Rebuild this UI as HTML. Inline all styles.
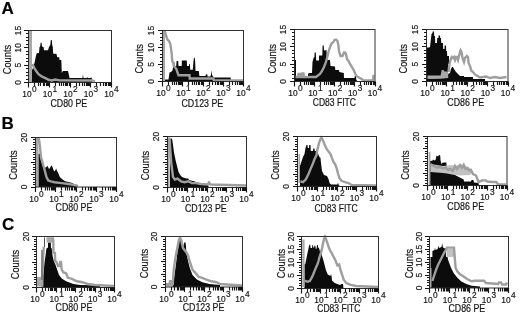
<!DOCTYPE html>
<html><head><meta charset="utf-8"><style>
html,body{margin:0;padding:0;background:#fff;width:520px;height:314px;overflow:hidden}
svg{display:block;filter:blur(0.35px)}
text{font-family:"Liberation Sans",sans-serif;fill:#151515;stroke:#151515;stroke-width:0.2px}
.t{font-size:9.5px}
.s{font-size:8px}
.l{font-size:10.2px}
.P{font-size:17px;font-weight:bold;fill:#000}
</style></head><body>
<svg width="520" height="314" viewBox="0 0 520 314">
<text x="1.6" y="13.8" class="P">A</text>
<text x="1.6" y="129" class="P">B</text>
<text x="2" y="229.5" class="P">C</text>
<g id="A1">
<polygon points="31.5,82 31.5,71 33,68 34.5,63 35.6,57.6 36.7,53.3 39,53 39.5,47 40.2,46.6 40.6,42.8 41.6,42.8 42,46.6 43.5,47 44,50.3 48,50.3 49,47 50.3,45 50.8,40 51.8,40 52.2,45 52.8,47 53.2,53.8 55.5,53.8 56.5,54 57.2,57.2 59.3,57.2 59.5,60 61.3,60 61.8,73 62.9,71 68,71 68.7,74 69.5,78.1 79.7,78.1 82.5,78 82.9,74.3 83.5,78 86.8,78 87.2,77 87.8,78 90.6,78 91,77 91.6,78 92.6,81 92.6,82" fill="#0c0c0c"/>
<polygon points="29,31 32,31 32,82 29,82" fill="#a8a8a8"/>
<polyline points="32.5,64.1 34.5,68.4 36.7,71.7 38.8,74.4 42.1,76.6 45.4,78.2 48.6,79.8 51.9,80.4 55.1,79.5 59.5,80.4 92,80.5 95,81.5" fill="none" stroke="#9e9e9e" stroke-width="2.4" stroke-linejoin="miter"/>
<rect x="28.5" y="30.5" width="83" height="52" fill="none" stroke="#303030" stroke-width="1"/>
<path d="M24 82.5H28.5 M26 79.5H28.5 M26 75.5H28.5 M26 72.5H28.5 M26 68.5H28.5 M24 65.5H28.5 M26 61.5H28.5 M26 58.5H28.5 M26 54.5H28.5 M26 51.5H28.5 M24 47.5H28.5 M26 44.5H28.5 M26 40.5H28.5 M26 37.5H28.5 M26 33.5H28.5 M24 30.5H28.5 M28.5 82.5V87.5 M34.5 82.5V86 M38.5 82.5V86 M40.5 82.5V86 M43.5 82.5V86 M44.5 82.5V86 M46.5 82.5V86 M47.5 82.5V86 M48.5 82.5V86 M49.5 82.5V87.5 M55.5 82.5V86 M59.5 82.5V86 M61.5 82.5V86 M63.5 82.5V86 M65.5 82.5V86 M66.5 82.5V86 M67.5 82.5V86 M69.5 82.5V86 M70.5 82.5V87.5 M76.5 82.5V86 M79.5 82.5V86 M82.5 82.5V86 M84.5 82.5V86 M86.5 82.5V86 M87.5 82.5V86 M88.5 82.5V86 M89.5 82.5V86 M90.5 82.5V87.5 M96.5 82.5V86 M100.5 82.5V86 M103.5 82.5V86 M105.5 82.5V86 M106.5 82.5V86 M108.5 82.5V86 M109.5 82.5V86 M110.5 82.5V86 M111.5 82.5V87.5" stroke="#151515" stroke-width="1.15" fill="none"/>
<text transform="translate(20.9,82.5) rotate(-90) scale(0.88,1)" text-anchor="middle" class="t">0</text>
<text transform="translate(20.9,65.17) rotate(-90) scale(0.88,1)" text-anchor="middle" class="t">5</text>
<text transform="translate(20.9,47.83) rotate(-90) scale(0.88,1)" text-anchor="middle" class="t">10</text>
<text transform="translate(20.9,30.5) rotate(-90) scale(0.88,1)" text-anchor="middle" class="t">15</text>
<text transform="translate(10.5,59.55) rotate(-90) scale(0.91,1)" text-anchor="middle" class="l">Counts</text>
<text transform="translate(29.5,97.1) scale(0.88,1)" text-anchor="middle" class="t">10<tspan dx="0.6" dy="-4.8">0</tspan></text>
<text transform="translate(50,97.1) scale(0.88,1)" text-anchor="middle" class="t">10<tspan dx="0.6" dy="-4.8">1</tspan></text>
<text transform="translate(70.5,97.1) scale(0.88,1)" text-anchor="middle" class="t">10<tspan dx="0.6" dy="-4.8">2</tspan></text>
<text transform="translate(91,97.1) scale(0.88,1)" text-anchor="middle" class="t">10<tspan dx="0.6" dy="-4.8">3</tspan></text>
<text transform="translate(111.5,97.1) scale(0.88,1)" text-anchor="middle" class="t">10<tspan dx="0.6" dy="-4.8">4</tspan></text>
<text transform="translate(50.4,106.6) scale(0.866,1)" class="l">CD80 PE</text>
</g>
<g id="A2">
<polygon points="164.5,82 164.5,79.5 168.5,79.5 169.5,72.5 171,72 172.5,70.5 173.3,66 173.8,62.3 174.4,62.3 174.6,66 176.2,66 176.6,61 178.2,61 178.5,66 181.7,66 181.9,60.5 186.8,60.5 187,66 189,66 189.3,64 190,64 190.2,69.7 192.8,69.7 193.4,62 193.9,57.7 194.7,57.7 195.2,62 195.5,71 198.8,71 199.4,76 205.5,76 206,74.2 207.2,74.2 207.6,76.5 210.5,76.5 211,74.2 211.4,70.3 211.9,74.2 212.5,76 214,77.6 230.6,77.6 231,80.5 231,82" fill="#0c0c0c"/>
<polygon points="163,31 165,31 165,82 163,82" fill="#a8a8a8"/>
<polyline points="164.5,31 165.5,33.4 166.5,37 167.5,39.6 169,41 170.2,43.6 171,48.5 171.8,54.8 172.3,61.4 173.4,63 173.8,66 176.2,68.8 178.5,75.2 189.5,75.2 189.7,78.5 213.3,78.5 214,80.5 243,80.5" fill="none" stroke="#9e9e9e" stroke-width="2.4" stroke-linejoin="miter"/>
<rect x="162.5" y="30.5" width="81" height="51" fill="none" stroke="#303030" stroke-width="1"/>
<path d="M158 81.5H162.5 M160 78.5H162.5 M160 74.5H162.5 M160 71.5H162.5 M160 67.5H162.5 M158 64.5H162.5 M160 61.5H162.5 M160 57.5H162.5 M160 54.5H162.5 M160 50.5H162.5 M158 47.5H162.5 M160 44.5H162.5 M160 40.5H162.5 M160 37.5H162.5 M160 33.5H162.5 M158 30.5H162.5 M162.5 81.5V86.5 M168.5 81.5V85 M172.5 81.5V85 M174.5 81.5V85 M176.5 81.5V85 M178.5 81.5V85 M179.5 81.5V85 M180.5 81.5V85 M181.5 81.5V85 M182.5 81.5V86.5 M188.5 81.5V85 M192.5 81.5V85 M194.5 81.5V85 M196.5 81.5V85 M198.5 81.5V85 M199.5 81.5V85 M201.5 81.5V85 M202.5 81.5V85 M203.5 81.5V86.5 M209.5 81.5V85 M212.5 81.5V85 M215.5 81.5V85 M217.5 81.5V85 M218.5 81.5V85 M220.5 81.5V85 M221.5 81.5V85 M222.5 81.5V85 M223.5 81.5V86.5 M229.5 81.5V85 M232.5 81.5V85 M235.5 81.5V85 M237.5 81.5V85 M239.5 81.5V85 M240.5 81.5V85 M241.5 81.5V85 M242.5 81.5V85 M243.5 81.5V86.5" stroke="#151515" stroke-width="1.15" fill="none"/>
<text transform="translate(154,81.5) rotate(-90) scale(0.88,1)" text-anchor="middle" class="t">0</text>
<text transform="translate(154,64.5) rotate(-90) scale(0.88,1)" text-anchor="middle" class="t">5</text>
<text transform="translate(154,47.5) rotate(-90) scale(0.88,1)" text-anchor="middle" class="t">10</text>
<text transform="translate(154,30.5) rotate(-90) scale(0.88,1)" text-anchor="middle" class="t">15</text>
<text transform="translate(143.3,58.8) rotate(-90) scale(0.91,1)" text-anchor="middle" class="l">Counts</text>
<text transform="translate(163.5,96.1) scale(0.88,1)" text-anchor="middle" class="t">10<tspan dx="0.6" dy="-4.8">0</tspan></text>
<text transform="translate(183.5,96.1) scale(0.88,1)" text-anchor="middle" class="t">10<tspan dx="0.6" dy="-4.8">1</tspan></text>
<text transform="translate(203.5,96.1) scale(0.88,1)" text-anchor="middle" class="t">10<tspan dx="0.6" dy="-4.8">2</tspan></text>
<text transform="translate(223.5,96.1) scale(0.88,1)" text-anchor="middle" class="t">10<tspan dx="0.6" dy="-4.8">3</tspan></text>
<text transform="translate(243.5,96.1) scale(0.88,1)" text-anchor="middle" class="t">10<tspan dx="0.6" dy="-4.8">4</tspan></text>
<text transform="translate(181.5,106.6) scale(0.866,1)" class="l">CD123 PE</text>
</g>
<g id="A3">
<polygon points="294.5,81.5 294.5,60 296,60 296,77 308,77 308,74 309,73 312,73 312.5,62 313.5,58 314.5,57 314.6,52.5 315.8,52.5 316,57 316.2,60.5 319,60.5 319,55.5 322.3,55.5 322.6,45.5 323.8,45.5 324,50.5 326.5,50 326.8,57 327.5,60 330,60 330.5,66 335,66.5 335.3,70 339,70 339.3,72 343.8,73 344,78 354.5,78 354.8,76 356,76 356.3,80 358,81.5" fill="#0c0c0c"/>
<polyline points="295.5,77 298,77 298.5,74 300,74 300.3,77 302,77 302.3,73.5 303.5,73.5 303.8,77 308,77 316,77 320,74 322,71 324,67 326,62 327.5,56 329,50 330.5,46 331.5,43.5 333,42.5 334.5,40 336,39.5 337.5,41 338.5,46 339,51 340.5,56 342.5,56 344,52.5 345,52.5 346,54 347,59 348.5,61 350,64 351,65.5 353.6,70 356.3,76 361.6,79 363.4,80.5 373,80.5 373.5,76 374.5,76" fill="none" stroke="#9e9e9e" stroke-width="2.4" stroke-linejoin="miter"/>
<rect x="294.5" y="29.5" width="80.5" height="52" fill="none" stroke="#303030" stroke-width="1"/>
<path d="M290 81.5H294.5 M292 78.5H294.5 M292 74.5H294.5 M292 71.5H294.5 M292 67.5H294.5 M290 64.5H294.5 M292 60.5H294.5 M292 57.5H294.5 M292 53.5H294.5 M292 50.5H294.5 M290 46.5H294.5 M292 43.5H294.5 M292 39.5H294.5 M292 36.5H294.5 M292 32.5H294.5 M290 29.5H294.5 M294.5 81.5V86.5 M300.5 81.5V85 M304.5 81.5V85 M306.5 81.5V85 M308.5 81.5V85 M310.5 81.5V85 M311.5 81.5V85 M312.5 81.5V85 M313.5 81.5V85 M314.5 81.5V86.5 M320.5 81.5V85 M324.5 81.5V85 M326.5 81.5V85 M328.5 81.5V85 M330.5 81.5V85 M331.5 81.5V85 M332.5 81.5V85 M333.5 81.5V85 M334.5 81.5V86.5 M340.5 81.5V85 M344.5 81.5V85 M346.5 81.5V85 M348.5 81.5V85 M350.5 81.5V85 M351.5 81.5V85 M352.5 81.5V85 M353.5 81.5V85 M354.5 81.5V86.5 M360.5 81.5V85 M364.5 81.5V85 M366.5 81.5V85 M368.5 81.5V85 M370.5 81.5V85 M371.5 81.5V85 M373.5 81.5V85 M374.5 81.5V85 M375.5 81.5V86.5" stroke="#151515" stroke-width="1.15" fill="none"/>
<text transform="translate(286.1,81.5) rotate(-90) scale(0.88,1)" text-anchor="middle" class="t">0</text>
<text transform="translate(286.1,64.17) rotate(-90) scale(0.88,1)" text-anchor="middle" class="t">5</text>
<text transform="translate(286.1,46.83) rotate(-90) scale(0.88,1)" text-anchor="middle" class="t">10</text>
<text transform="translate(286.1,29.5) rotate(-90) scale(0.88,1)" text-anchor="middle" class="t">15</text>
<text transform="translate(276.3,58.8) rotate(-90) scale(0.91,1)" text-anchor="middle" class="l">Counts</text>
<text transform="translate(295.5,96.1) scale(0.88,1)" text-anchor="middle" class="t">10<tspan dx="0.6" dy="-4.8">0</tspan></text>
<text transform="translate(315.38,96.1) scale(0.88,1)" text-anchor="middle" class="t">10<tspan dx="0.6" dy="-4.8">1</tspan></text>
<text transform="translate(335.25,96.1) scale(0.88,1)" text-anchor="middle" class="t">10<tspan dx="0.6" dy="-4.8">2</tspan></text>
<text transform="translate(355.12,96.1) scale(0.88,1)" text-anchor="middle" class="t">10<tspan dx="0.6" dy="-4.8">3</tspan></text>
<text transform="translate(375,96.1) scale(0.88,1)" text-anchor="middle" class="t">10<tspan dx="0.6" dy="-4.8">4</tspan></text>
<text transform="translate(312.7,105.8) scale(0.84002,1)" class="l">CD83 FITC</text>
</g>
<g id="A4">
<polygon points="427,81.5 427,47.6 429.2,47.6 430,47 430.8,40 431.5,34 432.5,33 432.8,31.5 434,31.5 434.2,36 435,36 435.2,43 437,43 437.2,38 438.5,38 438.6,35.5 440,35.5 440.2,38 441,38 441.2,43 443,43 443.2,49 444.5,49 444.7,45.5 446,45.5 446.2,51 447,51 447.2,56 449,56 449,64 448,64 448,74 450,73 451,69 452,67 453,67 454,69 456,72 458,74 460,76 464,76 464,77 473,77 473,79 485,79 485,81.5" fill="#0c0c0c"/>
<polygon points="427.5,75.5 440.6,75.5 441.7,70 443.6,70 444.5,71.5 447.5,71.5 448.2,73 448.2,78 441,78.8 427.5,79" fill="#a8a8a8"/>
<polyline points="448.5,72 449.5,64 450.5,60 451.7,57 453,58 454,57 455,60 456,57 457,57 458,60 459,56 460,52 460.6,50.3 461.5,52 462.5,58 464,62 465,58 466.8,56 468,57 468.6,63 470,66 471.3,70.5 473,72 475,74.4 477.6,76 480,77.5 486,76.5 490,78 495,77 500,78 506.5,77" fill="none" stroke="#9e9e9e" stroke-width="2.4" stroke-linejoin="miter"/>
<rect x="426.5" y="29.5" width="81.5" height="52" fill="none" stroke="#303030" stroke-width="1"/>
<path d="M422 81.5H426.5 M424 78.5H426.5 M424 74.5H426.5 M424 71.5H426.5 M424 67.5H426.5 M422 64.5H426.5 M424 60.5H426.5 M424 57.5H426.5 M424 53.5H426.5 M424 50.5H426.5 M422 46.5H426.5 M424 43.5H426.5 M424 39.5H426.5 M424 36.5H426.5 M424 32.5H426.5 M422 29.5H426.5 M426.5 81.5V86.5 M432.5 81.5V85 M436.5 81.5V85 M438.5 81.5V85 M440.5 81.5V85 M442.5 81.5V85 M443.5 81.5V85 M444.5 81.5V85 M445.5 81.5V85 M446.5 81.5V86.5 M453.5 81.5V85 M456.5 81.5V85 M459.5 81.5V85 M461.5 81.5V85 M462.5 81.5V85 M464.5 81.5V85 M465.5 81.5V85 M466.5 81.5V85 M467.5 81.5V86.5 M473.5 81.5V85 M476.5 81.5V85 M479.5 81.5V85 M481.5 81.5V85 M483.5 81.5V85 M484.5 81.5V85 M485.5 81.5V85 M486.5 81.5V85 M487.5 81.5V86.5 M493.5 81.5V85 M497.5 81.5V85 M499.5 81.5V85 M501.5 81.5V85 M503.5 81.5V85 M504.5 81.5V85 M506.5 81.5V85 M507.5 81.5V85 M508.5 81.5V86.5" stroke="#151515" stroke-width="1.15" fill="none"/>
<text transform="translate(418.25,81.5) rotate(-90) scale(0.88,1)" text-anchor="middle" class="t">0</text>
<text transform="translate(418.25,64.17) rotate(-90) scale(0.88,1)" text-anchor="middle" class="t">5</text>
<text transform="translate(418.25,46.83) rotate(-90) scale(0.88,1)" text-anchor="middle" class="t">10</text>
<text transform="translate(418.25,29.5) rotate(-90) scale(0.88,1)" text-anchor="middle" class="t">15</text>
<text transform="translate(407.3,58.8) rotate(-90) scale(0.91,1)" text-anchor="middle" class="l">Counts</text>
<text transform="translate(427.5,96.1) scale(0.88,1)" text-anchor="middle" class="t">10<tspan dx="0.6" dy="-4.8">0</tspan></text>
<text transform="translate(447.62,96.1) scale(0.88,1)" text-anchor="middle" class="t">10<tspan dx="0.6" dy="-4.8">1</tspan></text>
<text transform="translate(467.75,96.1) scale(0.88,1)" text-anchor="middle" class="t">10<tspan dx="0.6" dy="-4.8">2</tspan></text>
<text transform="translate(487.88,96.1) scale(0.88,1)" text-anchor="middle" class="t">10<tspan dx="0.6" dy="-4.8">3</tspan></text>
<text transform="translate(508,96.1) scale(0.88,1)" text-anchor="middle" class="t">10<tspan dx="0.6" dy="-4.8">4</tspan></text>
<text transform="translate(447.3,105.5) scale(0.866,1)" class="l">CD86 PE</text>
</g>
<g id="B1">
<polygon points="38.4,187 38.4,153.6 40,154 41,160.8 42.8,166 44.6,168 46.5,167 47.3,165.5 48,167 49,169 50,168 51,166 51.75,165.5 52.5,167 53.5,170 54.4,171.5 55.5,170 56.2,168.5 57,171 58,172.4 59.8,176.9 62.5,179.5 65.1,181.3 68.7,181.9 72.3,183.1 75,185 76,187" fill="#0c0c0c"/>
<polygon points="36,137.6 38.4,137.6 38.4,187 36,187" fill="#a8a8a8"/>
<polyline points="38.5,137.6 39.25,141 40.1,148.3 41,157.2 42.8,163.5 44.6,169.7 46.4,176.9 48.2,180.4 50.9,181.3 54.4,182.2 61.6,183.1 68.7,184 74,184.9 78,186" fill="none" stroke="#9e9e9e" stroke-width="2.4" stroke-linejoin="miter"/>
<rect x="35.5" y="137.5" width="81" height="49.5" fill="none" stroke="#303030" stroke-width="1"/>
<path d="M31 187.5H35.5 M33 184.5H35.5 M33 182.5H35.5 M33 179.5H35.5 M33 177.5H35.5 M31 174.5H35.5 M33 172.5H35.5 M33 169.5H35.5 M33 167.5H35.5 M33 164.5H35.5 M31 162.5H35.5 M33 159.5H35.5 M33 157.5H35.5 M33 154.5H35.5 M33 152.5H35.5 M31 149.5H35.5 M33 147.5H35.5 M33 144.5H35.5 M33 142.5H35.5 M33 139.5H35.5 M31 137.5H35.5 M35.5 187V192 M41.5 187V190.5 M45.5 187V190.5 M47.5 187V190.5 M49.5 187V190.5 M51.5 187V190.5 M52.5 187V190.5 M53.5 187V190.5 M54.5 187V190.5 M55.5 187V192 M61.5 187V190.5 M65.5 187V190.5 M67.5 187V190.5 M69.5 187V190.5 M71.5 187V190.5 M72.5 187V190.5 M74.5 187V190.5 M75.5 187V190.5 M76.5 187V192 M82.5 187V190.5 M85.5 187V190.5 M88.5 187V190.5 M90.5 187V190.5 M91.5 187V190.5 M93.5 187V190.5 M94.5 187V190.5 M95.5 187V190.5 M96.5 187V192 M102.5 187V190.5 M105.5 187V190.5 M108.5 187V190.5 M110.5 187V190.5 M112.5 187V190.5 M113.5 187V190.5 M114.5 187V190.5 M115.5 187V190.5 M116.5 187V192" stroke="#151515" stroke-width="1.15" fill="none"/>
<text transform="translate(27,187) rotate(-90) scale(0.88,1)" text-anchor="middle" class="t">0</text>
<text transform="translate(27,137.5) rotate(-90) scale(0.88,1)" text-anchor="middle" class="t">20</text>
<text transform="translate(17.4,165.1) rotate(-90) scale(0.91,1)" text-anchor="middle" class="l">Counts</text>
<text transform="translate(36.5,201.6) scale(0.88,1)" text-anchor="middle" class="t">10<tspan dx="0.6" dy="-4.8">0</tspan></text>
<text transform="translate(56.5,201.6) scale(0.88,1)" text-anchor="middle" class="t">10<tspan dx="0.6" dy="-4.8">1</tspan></text>
<text transform="translate(76.5,201.6) scale(0.88,1)" text-anchor="middle" class="t">10<tspan dx="0.6" dy="-4.8">2</tspan></text>
<text transform="translate(96.5,201.6) scale(0.88,1)" text-anchor="middle" class="t">10<tspan dx="0.6" dy="-4.8">3</tspan></text>
<text transform="translate(116.5,201.6) scale(0.88,1)" text-anchor="middle" class="t">10<tspan dx="0.6" dy="-4.8">4</tspan></text>
<text transform="translate(55.6,211) scale(0.866,1)" class="l">CD80 PE</text>
</g>
<g id="B2">
<polygon points="170,187.5 170,139 172,138.5 173,144.7 173.9,151.9 175.7,160.8 177.5,168 178.4,171.5 180.2,175 182,176.9 183.8,177.8 186.4,178.6 188.2,178.6 189,180 195,181.5 196.2,182.2 198,182.2 199,184 207.9,184 208.5,186 208.5,187.5" fill="#0c0c0c"/>
<polygon points="167.8,137.6 169.6,137.6 169.6,187.5 167.8,187.5" fill="#a8a8a8"/>
<polyline points="169.5,137.6 170.4,151.9 171.25,162.6 172.1,169.7 173,176.9 174.8,179.5 177.5,178.6 181,181.3 184.6,182.2 188.2,181.3 191.8,183.1 196,183.1 200.7,184 207.9,184.4 209,182.5 210.5,184.5 246,185.5" fill="none" stroke="#9e9e9e" stroke-width="2.4" stroke-linejoin="miter"/>
<rect x="167.5" y="136.5" width="79" height="51" fill="none" stroke="#303030" stroke-width="1"/>
<path d="M163 187.5H167.5 M165 184.5H167.5 M165 182.5H167.5 M165 179.5H167.5 M165 177.5H167.5 M163 174.5H167.5 M165 172.5H167.5 M165 169.5H167.5 M165 167.5H167.5 M165 164.5H167.5 M163 162.5H167.5 M165 159.5H167.5 M165 156.5H167.5 M165 154.5H167.5 M165 151.5H167.5 M163 149.5H167.5 M165 146.5H167.5 M165 144.5H167.5 M165 141.5H167.5 M165 139.5H167.5 M163 136.5H167.5 M167.5 187.5V192.5 M173.5 187.5V191 M176.5 187.5V191 M179.5 187.5V191 M181.5 187.5V191 M182.5 187.5V191 M184.5 187.5V191 M185.5 187.5V191 M186.5 187.5V191 M187.5 187.5V192.5 M193.5 187.5V191 M196.5 187.5V191 M199.5 187.5V191 M201.5 187.5V191 M202.5 187.5V191 M203.5 187.5V191 M205.5 187.5V191 M206.5 187.5V191 M207.5 187.5V192.5 M212.5 187.5V191 M216.5 187.5V191 M218.5 187.5V191 M220.5 187.5V191 M222.5 187.5V191 M223.5 187.5V191 M224.5 187.5V191 M225.5 187.5V191 M226.5 187.5V192.5 M232.5 187.5V191 M236.5 187.5V191 M238.5 187.5V191 M240.5 187.5V191 M242.5 187.5V191 M243.5 187.5V191 M244.5 187.5V191 M245.5 187.5V191 M246.5 187.5V192.5" stroke="#151515" stroke-width="1.15" fill="none"/>
<text transform="translate(158.75,187.5) rotate(-90) scale(0.88,1)" text-anchor="middle" class="t">0</text>
<text transform="translate(158.75,136.5) rotate(-90) scale(0.88,1)" text-anchor="middle" class="t">20</text>
<text transform="translate(149.4,165.6) rotate(-90) scale(0.91,1)" text-anchor="middle" class="l">Counts</text>
<text transform="translate(168.5,202.1) scale(0.88,1)" text-anchor="middle" class="t">10<tspan dx="0.6" dy="-4.8">0</tspan></text>
<text transform="translate(188,202.1) scale(0.88,1)" text-anchor="middle" class="t">10<tspan dx="0.6" dy="-4.8">1</tspan></text>
<text transform="translate(207.5,202.1) scale(0.88,1)" text-anchor="middle" class="t">10<tspan dx="0.6" dy="-4.8">2</tspan></text>
<text transform="translate(227,202.1) scale(0.88,1)" text-anchor="middle" class="t">10<tspan dx="0.6" dy="-4.8">3</tspan></text>
<text transform="translate(246.5,202.1) scale(0.88,1)" text-anchor="middle" class="t">10<tspan dx="0.6" dy="-4.8">4</tspan></text>
<text transform="translate(185,212) scale(0.866,1)" class="l">CD123 PE</text>
</g>
<g id="B3">
<polygon points="300,186.5 300,166 301,163 302,160 303,157 304.5,154 305.5,148 306.5,145 307.5,145 307.8,148 309,148 309.2,145 310.5,145 310.8,151 313,151 313.2,148.5 314.5,148.5 314.8,151 316,151 316.2,155 317,155 317.3,153 318,153 318.5,155 319.5,157 320.5,158 321,163 322,171 324,175 327,176 328.5,179 329.5,183 331,184.5 337.5,184.5 338,182.5 338.5,184.5 340,186.5" fill="#0c0c0c"/>
<polygon points="298.5,154 300,154 300,183 298.5,183" fill="#a8a8a8"/>
<polyline points="300.4,181.3 303,182.2 305.7,179.5 308.4,174.2 311,167.9 312.9,163.5 314.6,159 316.4,155.4 317.3,150 319.1,142.9 320.3,139.5 321.4,137.6 322.5,139.5 323.6,142 325,145.6 326.8,149.2 328.9,151.9 330.7,154.5 332,158.1 333.4,161.7 335.2,164.4 336.6,168 337.9,173.3 339.3,177.8 341.4,180.8 345,182.2 348.6,183.1 351.3,184.9 376,185.5" fill="none" stroke="#9e9e9e" stroke-width="2.4" stroke-linejoin="miter"/>
<rect x="297.5" y="136.5" width="79" height="50" fill="none" stroke="#303030" stroke-width="1"/>
<path d="M293 186.5H297.5 M295 184.5H297.5 M295 181.5H297.5 M295 179.5H297.5 M295 176.5H297.5 M293 174.5H297.5 M295 171.5H297.5 M295 169.5H297.5 M295 166.5H297.5 M295 164.5H297.5 M293 161.5H297.5 M295 159.5H297.5 M295 156.5H297.5 M295 154.5H297.5 M295 151.5H297.5 M293 149.5H297.5 M295 146.5H297.5 M295 144.5H297.5 M295 141.5H297.5 M295 139.5H297.5 M293 136.5H297.5 M297.5 186.5V191.5 M303.5 186.5V190 M306.5 186.5V190 M309.5 186.5V190 M311.5 186.5V190 M312.5 186.5V190 M314.5 186.5V190 M315.5 186.5V190 M316.5 186.5V190 M317.5 186.5V191.5 M323.5 186.5V190 M326.5 186.5V190 M329.5 186.5V190 M331.5 186.5V190 M332.5 186.5V190 M333.5 186.5V190 M335.5 186.5V190 M336.5 186.5V190 M337.5 186.5V191.5 M342.5 186.5V190 M346.5 186.5V190 M348.5 186.5V190 M350.5 186.5V190 M352.5 186.5V190 M353.5 186.5V190 M354.5 186.5V190 M355.5 186.5V190 M356.5 186.5V191.5 M362.5 186.5V190 M366.5 186.5V190 M368.5 186.5V190 M370.5 186.5V190 M372.5 186.5V190 M373.5 186.5V190 M374.5 186.5V190 M375.5 186.5V190 M376.5 186.5V191.5" stroke="#151515" stroke-width="1.15" fill="none"/>
<text transform="translate(289.05,186.5) rotate(-90) scale(0.88,1)" text-anchor="middle" class="t">0</text>
<text transform="translate(289.05,136.5) rotate(-90) scale(0.88,1)" text-anchor="middle" class="t">20</text>
<text transform="translate(279.4,165.1) rotate(-90) scale(0.91,1)" text-anchor="middle" class="l">Counts</text>
<text transform="translate(298.5,201.1) scale(0.88,1)" text-anchor="middle" class="t">10<tspan dx="0.6" dy="-4.8">0</tspan></text>
<text transform="translate(318,201.1) scale(0.88,1)" text-anchor="middle" class="t">10<tspan dx="0.6" dy="-4.8">1</tspan></text>
<text transform="translate(337.5,201.1) scale(0.88,1)" text-anchor="middle" class="t">10<tspan dx="0.6" dy="-4.8">2</tspan></text>
<text transform="translate(357,201.1) scale(0.88,1)" text-anchor="middle" class="t">10<tspan dx="0.6" dy="-4.8">3</tspan></text>
<text transform="translate(376.5,201.1) scale(0.88,1)" text-anchor="middle" class="t">10<tspan dx="0.6" dy="-4.8">4</tspan></text>
<text transform="translate(314.4,211.5) scale(0.84002,1)" class="l">CD83 FITC</text>
</g>
<g id="B4">
<polygon points="430,185.5 430,161 432.4,160.8 433,159.5 434.5,160.5 435.5,160 436.6,155.4 438,156.5 439,155 440.2,155.4 440.5,160 441.5,164.5 442,163 443.8,162.6 446.4,162.6 446.6,166 447,170 450,172.4 455,175 460.7,178 463.7,179.5 464,181.4 471,181.4 471.5,180 473.4,180 474,182.5 478.6,183 479,185.5" fill="#0c0c0c"/>
<polygon points="430.4,164 443,166 447,165.5 451,165 455,165.7 460,164.5 463.7,164.5 466,166 470,168 472.5,172 470,175 460,175.5 452,174.5 447,173.5 443,173 430.4,172" fill="#c2c2c2"/>
<polygon points="428.6,152 430.4,152 430.4,185 428.6,185" fill="#a8a8a8"/>
<polyline points="430.4,164 432,165 434.7,166.5 437,167.5 440,167 443,168.5 445.6,167.5 448,170 450,169 452.8,171 455,166 457,169 460,165 462,168 463.7,165 465.5,169 467.3,168 469,170.5 471,170 473,174 476,175.5 478.6,182 482,180.4 485.7,180.4 487.5,181.5 492,182 496.4,182 498,184.5 506,184.5" fill="none" stroke="#9e9e9e" stroke-width="2.4" stroke-linejoin="miter"/>
<rect x="427.5" y="136.5" width="79.5" height="49" fill="none" stroke="#303030" stroke-width="1"/>
<path d="M423 185.5H427.5 M425 183.5H427.5 M425 180.5H427.5 M425 178.5H427.5 M425 175.5H427.5 M423 173.5H427.5 M425 170.5H427.5 M425 168.5H427.5 M425 165.5H427.5 M425 163.5H427.5 M423 161.5H427.5 M425 158.5H427.5 M425 156.5H427.5 M425 153.5H427.5 M425 151.5H427.5 M423 148.5H427.5 M425 146.5H427.5 M425 143.5H427.5 M425 141.5H427.5 M425 138.5H427.5 M423 136.5H427.5 M427.5 185.5V190.5 M433.5 185.5V189 M436.5 185.5V189 M439.5 185.5V189 M441.5 185.5V189 M442.5 185.5V189 M444.5 185.5V189 M445.5 185.5V189 M446.5 185.5V189 M447.5 185.5V190.5 M453.5 185.5V189 M456.5 185.5V189 M459.5 185.5V189 M461.5 185.5V189 M462.5 185.5V189 M464.5 185.5V189 M465.5 185.5V189 M466.5 185.5V189 M467.5 185.5V190.5 M473.5 185.5V189 M476.5 185.5V189 M479.5 185.5V189 M481.5 185.5V189 M482.5 185.5V189 M484.5 185.5V189 M485.5 185.5V189 M486.5 185.5V189 M487.5 185.5V190.5 M493.5 185.5V189 M496.5 185.5V189 M499.5 185.5V189 M501.5 185.5V189 M502.5 185.5V189 M503.5 185.5V189 M505.5 185.5V189 M506.5 185.5V189 M507.5 185.5V190.5" stroke="#151515" stroke-width="1.15" fill="none"/>
<text transform="translate(419.05,185.5) rotate(-90) scale(0.88,1)" text-anchor="middle" class="t">0</text>
<text transform="translate(419.05,136.5) rotate(-90) scale(0.88,1)" text-anchor="middle" class="t">20</text>
<text transform="translate(409.4,165.1) rotate(-90) scale(0.91,1)" text-anchor="middle" class="l">Counts</text>
<text transform="translate(428.5,200.1) scale(0.88,1)" text-anchor="middle" class="t">10<tspan dx="0.6" dy="-4.8">0</tspan></text>
<text transform="translate(448.12,200.1) scale(0.88,1)" text-anchor="middle" class="t">10<tspan dx="0.6" dy="-4.8">1</tspan></text>
<text transform="translate(467.75,200.1) scale(0.88,1)" text-anchor="middle" class="t">10<tspan dx="0.6" dy="-4.8">2</tspan></text>
<text transform="translate(487.38,200.1) scale(0.88,1)" text-anchor="middle" class="t">10<tspan dx="0.6" dy="-4.8">3</tspan></text>
<text transform="translate(507,200.1) scale(0.88,1)" text-anchor="middle" class="t">10<tspan dx="0.6" dy="-4.8">4</tspan></text>
<text transform="translate(447.3,209.8) scale(0.866,1)" class="l">CD86 PE</text>
</g>
<g id="C1">
<polygon points="42.6,287.5 42.9,276.9 43.8,269.7 44.7,261 45.5,256 46.4,248.4 48,247.6 48,242.6 50.9,242.6 50.9,247.6 51.7,248.4 52.6,255.9 53.8,261 55.4,264.4 57.2,269.7 59,275 61.7,278.6 66.1,281.3 73.3,284 80.4,284.9 100,285.5 100,287.5" fill="#0c0c0c"/>
<polygon points="36.7,277 41,277 41,286.5 36.7,286.5" fill="#a8a8a8"/>
<polygon points="46.6,237.2 52.8,237.2 52.8,242.6 46.6,242.6" fill="#a8a8a8"/>
<polyline points="42.2,287.5 42.6,270 43.2,255 43.8,246.8" fill="none" stroke="#9e9e9e" stroke-width="2.4" stroke-linejoin="miter"/>
<polyline points="52.8,237.5 53.4,242.6 53.4,252.6 54.9,253 55.2,260.9 56.5,262 58.1,266.1 59.5,266 60.3,262 61,262 61.7,269.7 63.5,272.4 66.1,273.3 67.9,277.8 71.5,278.6 76.9,281.3 82.2,282.2 87.6,284 95,285 114,286" fill="none" stroke="#9e9e9e" stroke-width="2.4" stroke-linejoin="miter"/>
<polyline points="44.5,237.5 44.5,247" fill="none" stroke="#505050" stroke-width="1"/>
<polyline points="41.9,250 41.9,280" fill="none" stroke="#505050" stroke-width="1"/>
<rect x="36.5" y="236.5" width="78" height="51" fill="none" stroke="#303030" stroke-width="1"/>
<path d="M32 287.5H36.5 M34 284.5H36.5 M34 282.5H36.5 M34 279.5H36.5 M34 277.5H36.5 M32 274.5H36.5 M34 272.5H36.5 M34 269.5H36.5 M34 267.5H36.5 M34 264.5H36.5 M32 262.5H36.5 M34 259.5H36.5 M34 256.5H36.5 M34 254.5H36.5 M34 251.5H36.5 M32 249.5H36.5 M34 246.5H36.5 M34 244.5H36.5 M34 241.5H36.5 M34 239.5H36.5 M32 236.5H36.5 M36.5 287.5V292.5 M42.5 287.5V291 M45.5 287.5V291 M48.5 287.5V291 M50.5 287.5V291 M51.5 287.5V291 M52.5 287.5V291 M54.5 287.5V291 M55.5 287.5V291 M56.5 287.5V292.5 M61.5 287.5V291 M65.5 287.5V291 M67.5 287.5V291 M69.5 287.5V291 M71.5 287.5V291 M72.5 287.5V291 M73.5 287.5V291 M74.5 287.5V291 M75.5 287.5V292.5 M81.5 287.5V291 M84.5 287.5V291 M87.5 287.5V291 M89.5 287.5V291 M90.5 287.5V291 M91.5 287.5V291 M93.5 287.5V291 M94.5 287.5V291 M95.5 287.5V292.5 M100.5 287.5V291 M104.5 287.5V291 M106.5 287.5V291 M108.5 287.5V291 M110.5 287.5V291 M111.5 287.5V291 M112.5 287.5V291 M113.5 287.5V291 M114.5 287.5V292.5" stroke="#151515" stroke-width="1.15" fill="none"/>
<text transform="translate(28.5,287.5) rotate(-90) scale(0.88,1)" text-anchor="middle" class="t">0</text>
<text transform="translate(28.5,236.5) rotate(-90) scale(0.88,1)" text-anchor="middle" class="t">20</text>
<text transform="translate(18.7,264.6) rotate(-90) scale(0.91,1)" text-anchor="middle" class="l">Counts</text>
<text transform="translate(37.5,302.1) scale(0.88,1)" text-anchor="middle" class="t">10<tspan dx="0.6" dy="-4.8">0</tspan></text>
<text transform="translate(56.75,302.1) scale(0.88,1)" text-anchor="middle" class="t">10<tspan dx="0.6" dy="-4.8">1</tspan></text>
<text transform="translate(76,302.1) scale(0.88,1)" text-anchor="middle" class="t">10<tspan dx="0.6" dy="-4.8">2</tspan></text>
<text transform="translate(95.25,302.1) scale(0.88,1)" text-anchor="middle" class="t">10<tspan dx="0.6" dy="-4.8">3</tspan></text>
<text transform="translate(114.5,302.1) scale(0.88,1)" text-anchor="middle" class="t">10<tspan dx="0.6" dy="-4.8">4</tspan></text>
<text transform="translate(55.6,311.3) scale(0.866,1)" class="l">CD80 PE</text>
</g>
<g id="C2">
<polygon points="172.5,287 172.8,284 174.6,275 176.4,260.8 177.5,252 178.5,245 179,239.5 179.5,238.5 180.9,238.5 181.5,243 182,246 183.5,246 183.8,244 184.8,242 185.5,242.5 186,246 186.2,251.9 188,260.8 189.8,267.9 192.5,275 196.9,279.5 202.3,282.2 209.4,284 220,285 220,287" fill="#0c0c0c"/>
<polygon points="166,283 172.5,283 172.5,286.5 166,286.5" fill="#a8a8a8"/>
<polyline points="166,284.5 169.5,284 170,281.3 171,281.3 171.5,284 172.8,284 173.7,269.7 175.5,257.2 177.3,248.3 179,239.4 180.2,238 181.2,240 182,244 183,248 184.5,250 186.5,252.5 188.2,256 189.8,261.7 192.5,269.7 195,272.4 198.7,276.9 202.3,277.8 205.9,279.5 211.2,281.3 216.6,282.2 220,284 242,285.5" fill="none" stroke="#9e9e9e" stroke-width="2.4" stroke-linejoin="miter"/>
<rect x="165.5" y="236.5" width="77" height="50.5" fill="none" stroke="#303030" stroke-width="1"/>
<path d="M161 287.5H165.5 M163 284.5H165.5 M163 281.5H165.5 M163 279.5H165.5 M163 276.5H165.5 M161 274.5H165.5 M163 271.5H165.5 M163 269.5H165.5 M163 266.5H165.5 M163 264.5H165.5 M161 261.5H165.5 M163 259.5H165.5 M163 256.5H165.5 M163 254.5H165.5 M163 251.5H165.5 M161 249.5H165.5 M163 246.5H165.5 M163 244.5H165.5 M163 241.5H165.5 M163 239.5H165.5 M161 236.5H165.5 M165.5 287V292 M171.5 287V290.5 M174.5 287V290.5 M177.5 287V290.5 M178.5 287V290.5 M180.5 287V290.5 M181.5 287V290.5 M182.5 287V290.5 M183.5 287V290.5 M184.5 287V292 M190.5 287V290.5 M193.5 287V290.5 M196.5 287V290.5 M198.5 287V290.5 M199.5 287V290.5 M201.5 287V290.5 M202.5 287V290.5 M203.5 287V290.5 M204.5 287V292 M209.5 287V290.5 M213.5 287V290.5 M215.5 287V290.5 M217.5 287V290.5 M218.5 287V290.5 M220.5 287V290.5 M221.5 287V290.5 M222.5 287V290.5 M223.5 287V292 M229.5 287V290.5 M232.5 287V290.5 M234.5 287V290.5 M236.5 287V290.5 M238.5 287V290.5 M239.5 287V290.5 M240.5 287V290.5 M241.5 287V290.5 M242.5 287V292" stroke="#151515" stroke-width="1.15" fill="none"/>
<text transform="translate(157.1,287) rotate(-90) scale(0.88,1)" text-anchor="middle" class="t">0</text>
<text transform="translate(157.1,236.5) rotate(-90) scale(0.88,1)" text-anchor="middle" class="t">20</text>
<text transform="translate(147.5,263.6) rotate(-90) scale(0.91,1)" text-anchor="middle" class="l">Counts</text>
<text transform="translate(166.5,301.6) scale(0.88,1)" text-anchor="middle" class="t">10<tspan dx="0.6" dy="-4.8">0</tspan></text>
<text transform="translate(185.5,301.6) scale(0.88,1)" text-anchor="middle" class="t">10<tspan dx="0.6" dy="-4.8">1</tspan></text>
<text transform="translate(204.5,301.6) scale(0.88,1)" text-anchor="middle" class="t">10<tspan dx="0.6" dy="-4.8">2</tspan></text>
<text transform="translate(223.5,301.6) scale(0.88,1)" text-anchor="middle" class="t">10<tspan dx="0.6" dy="-4.8">3</tspan></text>
<text transform="translate(242.5,301.6) scale(0.88,1)" text-anchor="middle" class="t">10<tspan dx="0.6" dy="-4.8">4</tspan></text>
<text transform="translate(182.7,311) scale(0.866,1)" class="l">CD123 PE</text>
</g>
<g id="C3">
<polygon points="304.4,288.5 304.4,264.4 305.3,264 307,255.4 308.8,247 309.4,244.7 310.2,244.7 310.6,248 312,248 312.4,245 313,245 313.4,248 314.2,247 314.6,245.5 315.4,246 315.8,249 316.6,248.5 317,245 317.8,245 318.3,248 318.6,247.4 319.5,249.5 320,251.9 320.6,250 321.3,251 322,256 323,259 324,262.6 325.8,269.7 327.6,274.2 330.3,276 331,274 331.6,276.5 332,280.4 334.7,283.1 340,284.9 341.5,284 343,284 343.5,288.5" fill="#0c0c0c"/>
<polygon points="302.3,239.5 304.6,239.5 304.6,287 302.3,287" fill="#a8a8a8"/>
<polyline points="304.8,280.6 307.3,281.8 309.8,281 311.4,278.1 313.1,274.8 314.7,270.6 316.4,266.5 317.6,264 318.5,261 319.5,257.2 321.3,251.9 322.3,247 323.1,242.9 324.2,238.5 325,236.8 325.8,238.5 326.7,241.1 328.5,246.5 330.3,251 332,253.6 333.8,257.2 335.6,260.8 337.4,265.3 339.2,264.4 340.4,269.7 341.9,274.2 343.6,279.5 346.3,283.1 350.8,284.9 356,286 378,287" fill="none" stroke="#9e9e9e" stroke-width="2.4" stroke-linejoin="miter"/>
<rect x="301.5" y="236.5" width="77" height="52" fill="none" stroke="#303030" stroke-width="1"/>
<path d="M297 288.5H301.5 M299 285.5H301.5 M299 283.5H301.5 M299 280.5H301.5 M299 278.5H301.5 M297 275.5H301.5 M299 272.5H301.5 M299 270.5H301.5 M299 267.5H301.5 M299 265.5H301.5 M297 262.5H301.5 M299 259.5H301.5 M299 257.5H301.5 M299 254.5H301.5 M299 252.5H301.5 M297 249.5H301.5 M299 246.5H301.5 M299 244.5H301.5 M299 241.5H301.5 M299 239.5H301.5 M297 236.5H301.5 M301.5 288.5V293.5 M307.5 288.5V292 M310.5 288.5V292 M313.5 288.5V292 M314.5 288.5V292 M316.5 288.5V292 M317.5 288.5V292 M318.5 288.5V292 M319.5 288.5V292 M320.5 288.5V293.5 M326.5 288.5V292 M329.5 288.5V292 M332.5 288.5V292 M334.5 288.5V292 M335.5 288.5V292 M337.5 288.5V292 M338.5 288.5V292 M339.5 288.5V292 M340.5 288.5V293.5 M345.5 288.5V292 M349.5 288.5V292 M351.5 288.5V292 M353.5 288.5V292 M354.5 288.5V292 M356.5 288.5V292 M357.5 288.5V292 M358.5 288.5V292 M359.5 288.5V293.5 M365.5 288.5V292 M368.5 288.5V292 M370.5 288.5V292 M372.5 288.5V292 M374.5 288.5V292 M375.5 288.5V292 M376.5 288.5V292 M377.5 288.5V292 M378.5 288.5V293.5" stroke="#151515" stroke-width="1.15" fill="none"/>
<text transform="translate(294,288.5) rotate(-90) scale(0.88,1)" text-anchor="middle" class="t">0</text>
<text transform="translate(294,275.5) rotate(-90) scale(0.88,1)" text-anchor="middle" class="t">5</text>
<text transform="translate(294,262.5) rotate(-90) scale(0.88,1)" text-anchor="middle" class="t">10</text>
<text transform="translate(294,249.5) rotate(-90) scale(0.88,1)" text-anchor="middle" class="t">15</text>
<text transform="translate(294,236.5) rotate(-90) scale(0.88,1)" text-anchor="middle" class="t">20</text>
<text transform="translate(284.5,263.6) rotate(-90) scale(0.91,1)" text-anchor="middle" class="l">Counts</text>
<text transform="translate(302.5,303.1) scale(0.88,1)" text-anchor="middle" class="t">10<tspan dx="0.6" dy="-4.8">0</tspan></text>
<text transform="translate(321.5,303.1) scale(0.88,1)" text-anchor="middle" class="t">10<tspan dx="0.6" dy="-4.8">1</tspan></text>
<text transform="translate(340.5,303.1) scale(0.88,1)" text-anchor="middle" class="t">10<tspan dx="0.6" dy="-4.8">2</tspan></text>
<text transform="translate(359.5,303.1) scale(0.88,1)" text-anchor="middle" class="t">10<tspan dx="0.6" dy="-4.8">3</tspan></text>
<text transform="translate(378.5,303.1) scale(0.88,1)" text-anchor="middle" class="t">10<tspan dx="0.6" dy="-4.8">4</tspan></text>
<text transform="translate(317.2,311.9) scale(0.84002,1)" class="l">CD83 FITC</text>
</g>
<g id="C4">
<polygon points="430.5,288 430.5,257 432.4,257 432.4,251 434.5,250 435,247.5 435.5,250 437.7,249 438.3,245.6 439,248 441.5,247 442.2,242.9 442.8,247 444,248.3 445.8,248.3 446,257 447.5,257 448.4,260.8 451.1,268 453.8,273.3 457.4,277.8 461,281.3 466.3,284 471.6,285.8 480,286.5 480,288" fill="#0c0c0c"/>
<polygon points="446.5,249 454,249 454,257 446.5,257" fill="#c2c2c2"/>
<polygon points="429.7,268 431.5,268 431.5,287.5 429.7,287.5" fill="#a8a8a8"/>
<polyline points="432.4,281 434,276 436,270 438,265 440,261 442,257 444,253 445.8,250 447,247.6 454,247.6 454.7,257.2 455.6,268 457.4,271.5 460,274.2 462.7,276 465.4,277.8 468,279.5 471.6,281.3 475,280.8 484,280.8 486,283 498,284 499,282.5 501,282.5 502,284.5 506,284.5 507,282.5" fill="none" stroke="#9e9e9e" stroke-width="2.4" stroke-linejoin="miter"/>
<rect x="429.5" y="236.5" width="79" height="51.5" fill="none" stroke="#303030" stroke-width="1"/>
<path d="M425 288.5H429.5 M427 285.5H429.5 M427 282.5H429.5 M427 280.5H429.5 M427 277.5H429.5 M425 275.5H429.5 M427 272.5H429.5 M427 269.5H429.5 M427 267.5H429.5 M427 264.5H429.5 M425 262.5H429.5 M427 259.5H429.5 M427 257.5H429.5 M427 254.5H429.5 M427 251.5H429.5 M425 249.5H429.5 M427 246.5H429.5 M427 244.5H429.5 M427 241.5H429.5 M427 239.5H429.5 M425 236.5H429.5 M429.5 288V293 M435.5 288V291.5 M438.5 288V291.5 M441.5 288V291.5 M443.5 288V291.5 M444.5 288V291.5 M446.5 288V291.5 M447.5 288V291.5 M448.5 288V291.5 M449.5 288V293 M455.5 288V291.5 M458.5 288V291.5 M461.5 288V291.5 M463.5 288V291.5 M464.5 288V291.5 M465.5 288V291.5 M467.5 288V291.5 M468.5 288V291.5 M469.5 288V293 M474.5 288V291.5 M478.5 288V291.5 M480.5 288V291.5 M482.5 288V291.5 M484.5 288V291.5 M485.5 288V291.5 M486.5 288V291.5 M487.5 288V291.5 M488.5 288V293 M494.5 288V291.5 M498.5 288V291.5 M500.5 288V291.5 M502.5 288V291.5 M504.5 288V291.5 M505.5 288V291.5 M506.5 288V291.5 M507.5 288V291.5 M508.5 288V293" stroke="#151515" stroke-width="1.15" fill="none"/>
<text transform="translate(421.75,288) rotate(-90) scale(0.88,1)" text-anchor="middle" class="t">0</text>
<text transform="translate(421.75,275.12) rotate(-90) scale(0.88,1)" text-anchor="middle" class="t">5</text>
<text transform="translate(421.75,262.25) rotate(-90) scale(0.88,1)" text-anchor="middle" class="t">10</text>
<text transform="translate(421.75,249.38) rotate(-90) scale(0.88,1)" text-anchor="middle" class="t">15</text>
<text transform="translate(421.75,236.5) rotate(-90) scale(0.88,1)" text-anchor="middle" class="t">20</text>
<text transform="translate(412.5,263.6) rotate(-90) scale(0.91,1)" text-anchor="middle" class="l">Counts</text>
<text transform="translate(430.5,302.6) scale(0.88,1)" text-anchor="middle" class="t">10<tspan dx="0.6" dy="-4.8">0</tspan></text>
<text transform="translate(450,302.6) scale(0.88,1)" text-anchor="middle" class="t">10<tspan dx="0.6" dy="-4.8">1</tspan></text>
<text transform="translate(469.5,302.6) scale(0.88,1)" text-anchor="middle" class="t">10<tspan dx="0.6" dy="-4.8">2</tspan></text>
<text transform="translate(489,302.6) scale(0.88,1)" text-anchor="middle" class="t">10<tspan dx="0.6" dy="-4.8">3</tspan></text>
<text transform="translate(508.5,302.6) scale(0.88,1)" text-anchor="middle" class="t">10<tspan dx="0.6" dy="-4.8">4</tspan></text>
<text transform="translate(448.4,311.9) scale(0.866,1)" class="l">CD86 PE</text>
</g>
</svg>
</body></html>
